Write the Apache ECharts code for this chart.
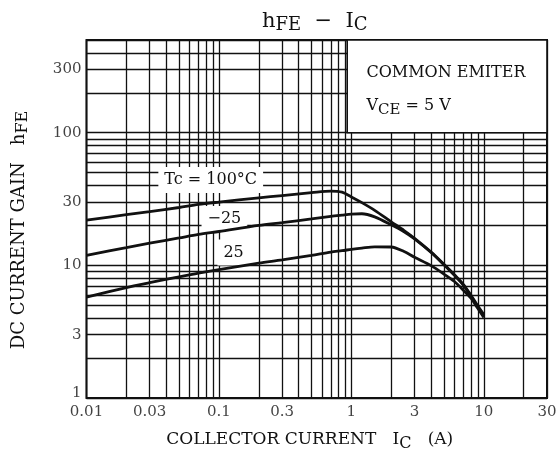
<!DOCTYPE html>
<html><head><meta charset="utf-8">
<script src="https://cdn.jsdelivr.net/npm/echarts@6/dist/echarts.min.js"></script>
<style>html,body{margin:0;padding:0;background:#fff}#c{width:557px;height:468px}</style>
</head><body><div id="c"></div>
<script>
// ---- data ----
const IC = [0.01,0.02,0.03,0.05,0.07,0.1,0.2,0.3,0.5,0.7,0.85,1.0,1.2,1.5,2,2.5,3,4,5,6,7,8,9,10];
const HFE_T100 = [21.9,24.1,25.4,27.3,28.8,30.0,32.3,33.6,35.3,36.3,35.6,32.8,29.7,26.0,21.3,18.3,16.0,12.6,10.2,8.5,7.2,5.95,4.95,4.25];
const HFE_TM25 = [11.9,13.6,14.7,16.1,17.1,18.0,20.0,21.0,22.4,23.4,23.9,24.3,24.5,23.2,20.2,17.9,15.8,12.5,10.1,8.4,7.1,5.85,4.85,4.2];
const HFE_T25  = [5.77,6.8,7.4,8.2,8.75,9.3,10.4,11.0,11.9,12.6,12.9,13.2,13.5,13.8,13.75,12.7,11.5,9.95,8.6,7.55,6.5,5.65,4.75,4.05];
const X_TICKS = [0.01,0.03,0.1,0.3,1,3,10,30];
const Y_TICKS = [1,3,10,30,100,300];
const X_GRID = [0.01,0.02,0.03,0.04,0.05,0.06,0.07,0.08,0.09,0.1,0.2,0.3,0.4,0.5,0.6,0.7,0.8,0.9,1,2,3,4,5,6,7,8,9,10,20,30];
const Y_GRID = [1,2,3,4,5,6,7,8,9,10,20,30,40,50,60,70,80,90,100,200,300,400,500];
const CURVE_LABELS = [
  {name:'Tc = 100°C', coord:[0.0867,44.0]},
  {name:'−25', coord:[0.110,22.4]},
  {name:'25', coord:[0.129,12.5]}
];
const BOX = [[0.93,100],[30,500]];

const FONT = 'DejaVu Serif';
const INK = '#111';
const chart = echarts.init(document.getElementById('c'), null, {renderer:'canvas'});

const pairs = ys => IC.map((x,i)=>[x, ys[i]]);
const curveStyle = {type:'line', smooth:0.3, symbol:'none', z:3,
  lineStyle:{color:INK, width:2.8}, silent:true};
const tok = (size, lh, extra) => Object.assign({fontFamily:FONT, fontSize:size, fontWeight:'normal', color:INK, lineHeight:lh}, extra||{});

const option = {
  animation:false,
  title:{
    text:'{m|h}{s|FE}{m|  −  I}{s|C}', left:257, top:4,
    textStyle:{fontWeight:'normal', rich:{
      m:tok(21,26),
      s:tok(18,26,{padding:[7,0,0,0]})
    }}
  },
  grid:{left:85, right:10, top:40, bottom:70, show:true, borderColor:INK, borderWidth:2, backgroundColor:'#fff'},
  xAxis:{type:'log', logBase:10, min:0.01, max:30,
    axisLine:{show:false}, axisTick:{show:false}, axisLabel:{show:false}, splitLine:{show:false},
    name:'{n|COLLECTOR CURRENT   I}{s|C}{n|   (A)}', nameLocation:'middle', nameGap:31,
    nameTextStyle:{padding:[0,14,0,0], rich:{
      n:tok(17,22),
      s:tok(16,22,{padding:[7,0,0,0]})
    }}
  },
  yAxis:{type:'log', logBase:10, min:1, max:500,
    axisLine:{show:false}, axisTick:{show:false}, axisLabel:{show:false}, splitLine:{show:false},
    name:'{n|DC CURRENT GAIN   h}{s|FE}', nameLocation:'middle', nameGap:56, nameRotate:90,
    nameTextStyle:{padding:[0,22,0,0], rich:{
      n:tok(18,22),
      s:tok(16,22,{padding:[7,0,0,0]})
    }}
  },
  series:[
    Object.assign({}, curveStyle, {name:'Tc=100', data:pairs(HFE_T100),
      markLine:{silent:true, z:1, symbol:['none','none'], label:{show:false}, animation:false,
        lineStyle:{color:INK, width:1.3, type:'solid'},
        emphasis:{disabled:true},
        data:[...X_GRID.map(v=>({xAxis:v})), ...Y_GRID.map(v=>({yAxis:v}))]},
      markArea:{silent:true, z:2, animation:false,
        itemStyle:{color:'#fff', borderColor:INK, borderWidth:1.6},
        label:{show:true, position:'insideTopLeft', distance:11, padding:[6,0,0,9],
          formatter:'{a|COMMON EMITER}\n{a|V}{s|CE}{a| = 5 V}',
          rich:{
            a:tok(16,33),
            s:tok(15,33,{padding:[8,0,0,0]})
          }},
        data:[[{coord:BOX[0]},{coord:BOX[1]}]]},
      markPoint:{silent:true, z:2, symbol:'circle', symbolSize:0, animation:false,
        label:{show:true, position:'inside', formatter:'{b}', fontFamily:FONT, fontSize:16, color:INK,
          backgroundColor:'#fff', padding:[5,6]},
        data:CURVE_LABELS.map(l=>({name:l.name, coord:l.coord}))}
    }),
    Object.assign({}, curveStyle, {name:'Tc=-25', data:pairs(HFE_TM25)}),
    Object.assign({}, curveStyle, {name:'Tc=25', data:pairs(HFE_T25)}),
    {type:'scatter', name:'xticks', silent:true, z:5, clip:false, symbolSize:0,
      data:X_TICKS.map(v=>[v,1]),
      label:{show:true, position:'bottom', distance:7, fontFamily:FONT, fontSize:15, color:INK,
        formatter:p=>String(p.value[0])}},
    {type:'scatter', name:'yticks', silent:true, z:5, clip:false, symbolSize:0,
      data:Y_TICKS.map(v=>v===1 ? {value:[0.01,v], label:{offset:[0,-5]}} : {value:[0.01,v]}),
      label:{show:true, position:'left', distance:5, fontFamily:FONT, fontSize:15, color:INK,
        formatter:p=>String(p.value[1])}}
  ]
};
chart.setOption(option);
</script>
</body></html>
